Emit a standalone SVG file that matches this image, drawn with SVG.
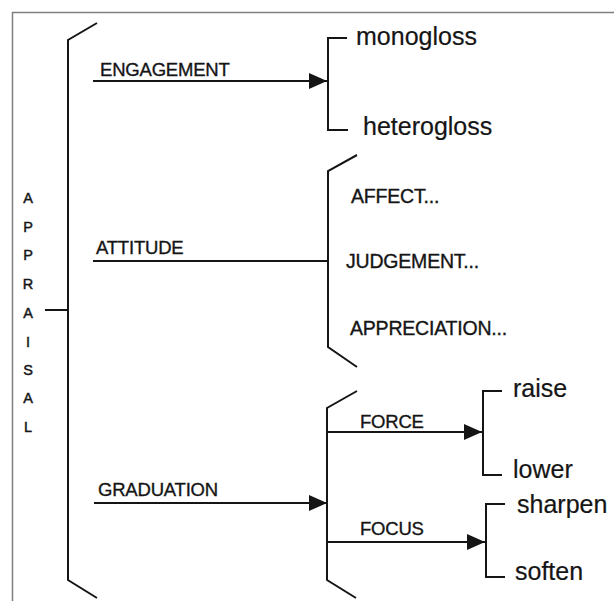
<svg xmlns="http://www.w3.org/2000/svg" width="614" height="601" viewBox="0 0 614 601">
  <defs>
    <style>
      .ln { fill: none; stroke: #151515; stroke-width: 2; stroke-linejoin: miter; }
      .lab { font-family: "Liberation Sans", Arial, sans-serif; font-size: 18.5px; fill: #151515; stroke: #151515; stroke-width: 0.35px; letter-spacing: -0.2px; }
      .sub { font-family: "Liberation Sans", Arial, sans-serif; font-size: 19.5px; fill: #151515; stroke: #151515; stroke-width: 0.35px; letter-spacing: -0.2px; }
      .term { font-family: "Liberation Sans", Arial, sans-serif; font-size: 25px; fill: #151515; stroke: #151515; stroke-width: 0.2px; }
      .vert { font-family: "Liberation Sans", Arial, sans-serif; font-size: 14.5px; fill: #151515; stroke: #151515; stroke-width: 0.45px; text-anchor: middle; }
    </style>
    <marker id="arr" markerUnits="userSpaceOnUse" markerWidth="18" markerHeight="16" viewBox="0 0 18 16" refX="18" refY="8" orient="auto">
      <path d="M0,0 L18,8 L0,16 Z" fill="#151515"/>
    </marker>
  </defs>
  <rect width="614" height="601" fill="#ffffff"/>
  <g id="frame">
    <path d="M12.5,601 L12.5,12.5 L614,12.5" fill="none" stroke="#808080" stroke-width="1.5"/>
  </g>

  <g id="connectors">
    <path class="ln" d="M97,23 L68,40 L68,580 L97,598"/>
    <path class="ln" d="M45,310 L68,310"/>
    <path class="ln" d="M93,81 L327,81" marker-end="url(#arr)"/>
    <path class="ln" d="M347,38 L328,38 L328,130 L348,130"/>
    <path class="ln" d="M93,261 L328,261"/>
    <path class="ln" d="M357,155 L328,171 L328,347 L357,367"/>
    <path class="ln" d="M94,503 L327,503" marker-end="url(#arr)"/>
    <path class="ln" d="M357,391 L327,408 L327,580 L356,598"/>
    <path class="ln" d="M327,432 L482,432" marker-end="url(#arr)"/>
    <path class="ln" d="M502,391 L483,391 L483,475 L502,475"/>
    <path class="ln" d="M327,542 L485,542" marker-end="url(#arr)"/>
    <path class="ln" d="M505,504 L486,504 L486,577 L505,577"/>
  </g>

  <g id="appraisal">
    <text class="vert" x="28" y="203">A</text>
    <text class="vert" x="28" y="232">P</text>
    <text class="vert" x="28" y="260">P</text>
    <text class="vert" x="28" y="289">R</text>
    <text class="vert" x="28" y="318">A</text>
    <text class="vert" x="28" y="347">I</text>
    <text class="vert" x="28" y="375">S</text>
    <text class="vert" x="28" y="403">A</text>
    <text class="vert" x="28" y="432">L</text>
  </g>
  <g id="engagement"><text class="lab" x="100" y="76">ENGAGEMENT</text></g>
  <g id="attitude"><text class="lab" x="96" y="254">ATTITUDE</text></g>
  <g id="graduation"><text class="lab" x="98" y="496">GRADUATION</text></g>
  <g id="monogloss"><text class="term" x="356" y="45">monogloss</text></g>
  <g id="heterogloss"><text class="term" x="363" y="135">heterogloss</text></g>
  <g id="affect"><text class="sub" x="351" y="203">AFFECT...</text></g>
  <g id="judgement"><text class="sub" x="346" y="268">JUDGEMENT...</text></g>
  <g id="appreciation"><text class="sub" x="350" y="335">APPRECIATION...</text></g>
  <g id="force"><text class="lab" x="360" y="428">FORCE</text></g>
  <g id="focus"><text class="lab" x="360" y="535">FOCUS</text></g>
  <g id="raise"><text class="term" x="513" y="397">raise</text></g>
  <g id="lower"><text class="term" x="513" y="478">lower</text></g>
  <g id="sharpen"><text class="term" x="517" y="513">sharpen</text></g>
  <g id="soften"><text class="term" x="515" y="580">soften</text></g>
</svg>
